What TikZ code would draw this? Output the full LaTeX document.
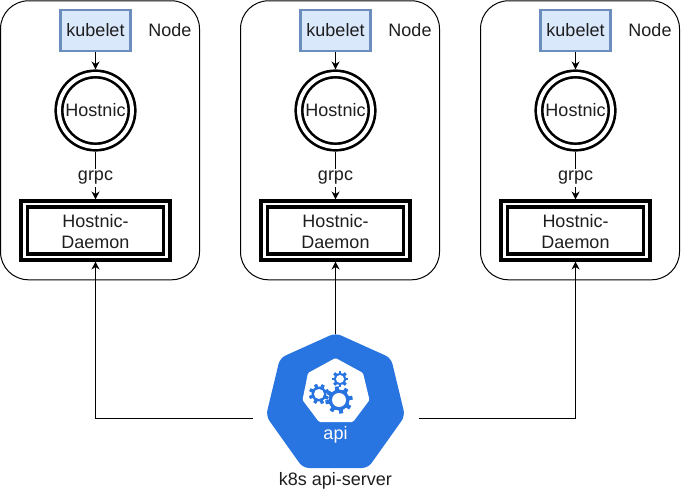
\documentclass[tikz,border=0pt]{standalone}
\usepackage{fontspec}
\setmainfont{Liberation Sans}
\usetikzlibrary{arrows.meta}
\definecolor{kubeblue}{HTML}{2874E0}
\definecolor{kubefill}{HTML}{DAE8FC}
\definecolor{kubeline}{HTML}{6C8EBF}
\definecolor{inktext}{HTML}{1E1E1E}
\def\pxu{0.75pt}
\newcommand{\mygear}[7]{%
  \foreach \a in {0,45,...,315}{
    \fill[kubeblue,shift={(#1,#2)},rotate=\a+#7] (-#6,-#3) rectangle (#6,#3);
  }
  \fill[kubeblue] (#1,#2) circle[radius=#4];
  \fill[white] (#1,#2) circle[radius=#5];
}
\tikzset{
  labeltext/.style={font=\fontsize{13.5pt}{16pt}\selectfont,text=inktext,inner sep=0pt,align=center},
  nodebox/.style={draw=black,line width=\pxu,rounded corners=21pt,minimum width={199*\pxu},minimum height={279*\pxu},inner sep=0pt,outer sep=0pt},
  kubeletbox/.style={labeltext,draw=kubeline,fill=kubefill,line width=1.9pt,minimum width={70*\pxu},minimum height={41*\pxu},outer sep=1pt},
  hostnicring/.style={labeltext,circle,draw=black,fill=white,line width=2pt,double=white,double distance=2.9pt,minimum size={73*\pxu},outer sep=3.4pt},
  daemonouter/.style={draw=black,line width=2.3pt,minimum width={149*\pxu},minimum height={59*\pxu},inner sep=0pt,outer sep=1.15pt},
  daemoninner/.style={draw=black,line width=2.3pt,minimum width={136*\pxu},minimum height={47*\pxu},inner sep=0pt},
  conn/.style={draw=black,line width=\pxu,-{Stealth[length=6pt,width=6pt]}},
  grpclabel/.style={labeltext,fill=white,inner xsep=1pt,inner ysep=2pt}
}
\begin{document}
\begin{tikzpicture}[x=0.75pt,y=-0.75pt]
\useasboundingbox (0,0) rectangle (681,491);
\fill[white] (0,0) rectangle (681,491);
\foreach \i/\dx in {1/0,2/240,3/480}{
  \node[nodebox] (box\i) at (100+\dx,140.3) {};
  \node[labeltext] (nodelabel\i) at (170+\dx,30.5) {Node};
  \node[kubeletbox] (kubelet\i) at (95.5+\dx,30.5) {kubelet};
  \node[hostnicring] (hostnic\i) at (95.5+\dx,110.5) {Hostnic};
  \node[daemonouter] (daemon\i) at (95.5+\dx,230.5) {};
  \node[daemoninner] (daemonbox\i) at (95.5+\dx,230.5) {};
  \node[labeltext] (daemontext\i) at (95.5+\dx,231.5) {Hostnic-\\Daemon};
  \draw[conn] (kubelet\i.south) -- (hostnic\i.north);
  \draw[conn] (hostnic\i.south) -- (daemon\i.north) node[grpclabel,pos=0.55] (grpc\i) {grpc};
}
% api-server icon
\node[minimum width={136*\pxu},minimum height={132*\pxu},inner sep=0pt,outer sep=0pt] (api) at (335.5,400) {};
\fill[kubeblue,rounded corners=4.5pt] (335.5,333) -- (391,358) -- (405,416) -- (368,468) -- (303,468) -- (266,416) -- (280,358) -- cycle;
\fill[white,rounded corners=1pt] (335.5,358) -- (363,373) -- (369.5,400) -- (353,422) -- (319,422) -- (302.5,400) -- (308,373) -- cycle;
\mygear{339}{400}{13.5}{10.5}{7}{1.9}{10}
\mygear{319}{394}{10}{7.5}{5}{1.5}{20}
\mygear{340}{379}{8}{6}{4}{1.3}{0}
\node[labeltext,text=white] (apilabel) at (335.5,434.5) {api};
\node[labeltext] (apiname) at (335.5,480.5) {k8s api-server};
% connectors
\draw[conn] (api.west) ++(-15,18) coordinate (lstart) -- (lstart -| daemon1.south) -- (daemon1.south);
\draw[conn] (api.north) -- (daemon2.south);
\draw[conn] (api.east) ++(15,18) coordinate (rstart) -- (rstart -| daemon3.south) -- (daemon3.south);
\end{tikzpicture}
\end{document}
